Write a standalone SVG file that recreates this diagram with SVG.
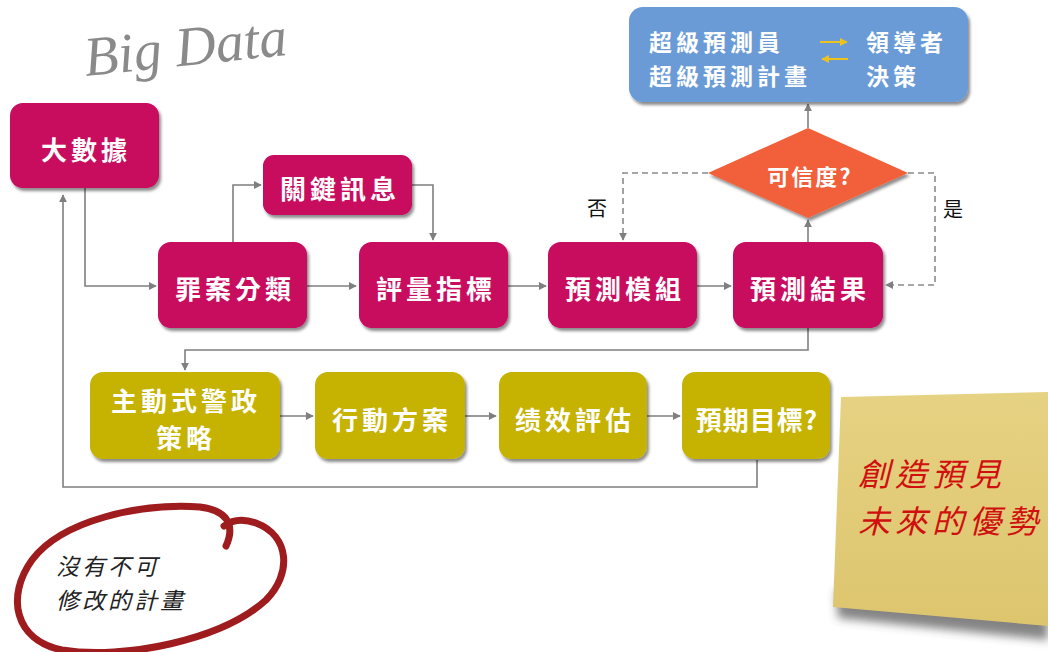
<svg xmlns="http://www.w3.org/2000/svg" width="1048" height="652" viewBox="0 0 1048 652">
<defs>
<style>
.box{stroke:none}
.mag{fill:#C8075F}
.olv{fill:#C6B200}
.t{font-family:"Noto Sans CJK TC","Noto Sans CJK SC",sans-serif;font-weight:700;fill:#fff;text-anchor:middle;dominant-baseline:central}
.ts{font-family:"Noto Sans CJK TC","Noto Sans CJK SC",sans-serif;font-weight:700;fill:#fff;text-anchor:start;dominant-baseline:central;font-size:23px;letter-spacing:4px}
.bt{font-size:26px;letter-spacing:4px}
.ln{fill:none;stroke:#7f7f7f;stroke-width:1.6}
.dash{fill:none;stroke:#8a8a8a;stroke-width:1.6;stroke-dasharray:6 4}
.lbl{font-family:"Noto Sans CJK TC",sans-serif;font-size:20px;fill:#111;text-anchor:middle;dominant-baseline:central}
.red{font-family:"Noto Sans CJK TC",sans-serif;font-size:32px;font-style:italic;fill:#D00F0F;letter-spacing:5px}
.blk{font-family:"Noto Sans CJK TC",sans-serif;font-size:23px;font-style:italic;fill:#222;letter-spacing:3px}
</style>
<filter id="sh" x="-10%" y="-10%" width="125%" height="130%">
<feDropShadow dx="2" dy="3" stdDeviation="1.8" flood-color="#000" flood-opacity="0.45"/>
</filter>
<filter id="blur" x="-10%" y="-20%" width="120%" height="160%"><feGaussianBlur stdDeviation="5"/></filter>
<marker id="ar" viewBox="0 0 10 10" refX="9" refY="5" markerWidth="8" markerHeight="8" markerUnits="userSpaceOnUse" orient="auto">
<path d="M0,0 L10,5 L0,10 z" fill="#7f7f7f"/>
</marker>
<marker id="ya" viewBox="0 0 10 10" refX="9" refY="5" markerWidth="8" markerHeight="8" markerUnits="userSpaceOnUse" orient="auto">
<path d="M0,0 L10,5 L0,10 z" fill="#EDC21C"/>
</marker>
<linearGradient id="note" x1="0" y1="0" x2="0" y2="1">
<stop offset="0" stop-color="#E6D283"/>
<stop offset="1" stop-color="#DDC56E"/>
</linearGradient>
</defs>
<rect width="1048" height="652" fill="#fff"/>

<text x="86" y="76" transform="rotate(-6 86 76)" font-family="Liberation Serif,serif" font-style="italic" font-size="56" fill="#8a8a8a">Big Data</text>

<g id="connectors">
<path class="ln" d="M85,188 V286 H156" marker-end="url(#ar)"/>
<path class="ln" d="M233,242 V185 H261" marker-end="url(#ar)"/>
<path class="ln" d="M412,185 H433 V240" marker-end="url(#ar)"/>
<path class="ln" d="M307,286 H356" marker-end="url(#ar)"/>
<path class="ln" d="M508,286 H546" marker-end="url(#ar)"/>
<path class="ln" d="M697,286 H731" marker-end="url(#ar)"/>
<path class="ln" d="M808,242 V220" marker-end="url(#ar)"/>
<path class="ln" d="M808,128 V104" marker-end="url(#ar)"/>
<path class="dash" d="M708,173 H623 V240" marker-end="url(#ar)"/>
<path class="dash" d="M908,173 H935 V285 H886" marker-end="url(#ar)"/>
<path class="ln" d="M808,328 V350 H185 V370" marker-end="url(#ar)"/>
<path class="ln" d="M280,416 H313" marker-end="url(#ar)"/>
<path class="ln" d="M465,416 H496" marker-end="url(#ar)"/>
<path class="ln" d="M647,416 H680" marker-end="url(#ar)"/>
<path class="ln" d="M757,460 V487 H63 V195" marker-end="url(#ar)"/>
<text class="lbl" x="597" y="207">否</text>
<text class="lbl" x="953" y="208">是</text>
</g>

<g id="n-bigdata">
<rect class="box mag" filter="url(#sh)" x="10" y="103" width="149" height="85" rx="13"/>
<text class="t bt" x="86" y="148">大數據</text>
</g>
<g id="n-classify">
<rect class="box mag" filter="url(#sh)" x="158" y="242" width="149" height="86" rx="13"/>
<text class="t bt" x="235" y="287">罪案分類</text>
</g>
<g id="n-keyinfo">
<rect class="box mag" filter="url(#sh)" x="263" y="155" width="149" height="60" rx="11"/>
<text class="t bt" x="340" y="187">關鍵訊息</text>
</g>
<g id="n-metric">
<rect class="box mag" filter="url(#sh)" x="359" y="242" width="149" height="86" rx="13"/>
<text class="t bt" x="436" y="287">評量指標</text>
</g>
<g id="n-model">
<rect class="box mag" filter="url(#sh)" x="548" y="242" width="149" height="86" rx="13"/>
<text class="t bt" x="625" y="287">預測模組</text>
</g>
<g id="n-result">
<rect class="box mag" filter="url(#sh)" x="733" y="242" width="150" height="86" rx="13"/>
<text class="t bt" x="810" y="287">預測結果</text>
</g>
<g id="n-credible">
<polygon filter="url(#sh)" points="808,128 908,173 808,218 708,173" fill="#F2603A"/>
<text class="t" x="810" y="175" font-size="22" letter-spacing="2">可信度?</text>
</g>
<g id="n-super">
<rect filter="url(#sh)" x="629" y="7" width="339" height="95" rx="14" fill="#6A9BD6"/>
<text class="ts" x="649" y="41">超級預測員</text>
<text class="ts" x="649" y="75">超級預測計畫</text>
<text class="ts" x="866" y="41">領導者</text>
<text class="ts" x="866" y="75">決策</text>
<line x1="820" y1="42" x2="847" y2="42" stroke="#EDC21C" stroke-width="2" marker-end="url(#ya)"/>
<line x1="848" y1="59" x2="822" y2="59" stroke="#EDC21C" stroke-width="2" marker-end="url(#ya)"/>
</g>

<g id="n-policy">
<rect class="box olv" filter="url(#sh)" x="90" y="372" width="190" height="87" rx="13"/>
<text class="t bt" x="186" y="399">主動式警政</text>
<text class="t bt" x="186" y="436">策略</text>
</g>
<g id="n-action">
<rect class="box olv" filter="url(#sh)" x="315" y="372" width="150" height="87" rx="13"/>
<text class="t bt" x="392" y="418">行動方案</text>
</g>
<g id="n-eval">
<rect class="box olv" filter="url(#sh)" x="499" y="372" width="148" height="87" rx="13"/>
<text class="t bt" x="575" y="418">绩效評估</text>
</g>
<g id="n-goal">
<rect class="box olv" filter="url(#sh)" x="682" y="372" width="148" height="87" rx="13"/>
<text class="t" x="757" y="418" font-size="26" letter-spacing="1">預期目標?</text>
</g>

<g id="sticky">
<polygon points="836,590 1048,612 1048,640 838,618" fill="#333" opacity="0.6" filter="url(#blur)"/>
<polygon points="841,397 1048,392 1048,626 833,607" fill="url(#note)"/>
<text class="red" x="858" y="486">創造預見</text>
<text class="red" x="858" y="533">未來的優勢</text>
</g>

<g id="circle-note">
<path d="M226,546 C236,524 226,510 200,507 C140,503 62,520 32,560 C6,596 14,640 62,650 C124,660 222,640 266,600 C292,574 290,536 256,523 C242,518 232,520 224,526" fill="none" stroke="#9E1B1E" stroke-width="7" stroke-linecap="round"/>
<text class="blk" x="56" y="575">沒有不可</text>
<text class="blk" x="56" y="609">修改的計畫</text>
</g>
</svg>
